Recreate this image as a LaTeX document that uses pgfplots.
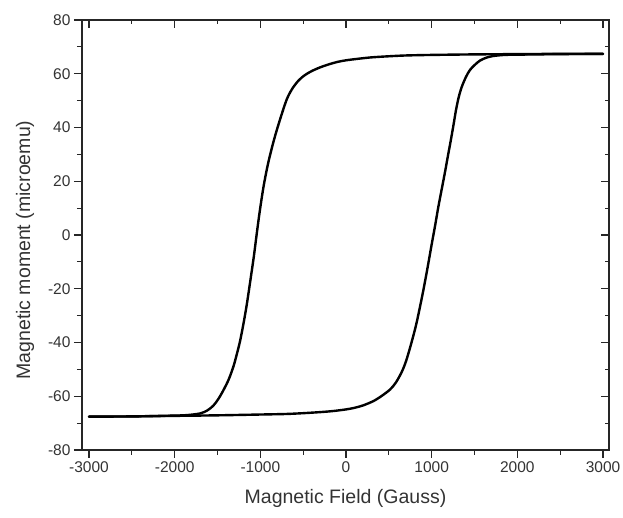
\documentclass[border=0pt]{standalone}
\usepackage{fontspec}
\setmainfont{Liberation Sans}
\usepackage{pgfplots}
\pgfplotsset{compat=1.18}
\begin{document}
\begin{tikzpicture}[x=1pt,y=1pt]
\useasboundingbox (-82,-68) rectangle (541,450);
\begin{axis}[
  at={(0,0)}, anchor=south west,
  scale only axis, width=527pt, height=430pt,
  xmin=-3082, xmax=3070, ymin=-80, ymax=80,
  xtick={-3000,-2000,...,3000}, ytick={-80,-60,...,80},
  minor x tick num=1, minor y tick num=1,
  tick align=outside, xtick pos=left, ytick pos=left,
  major tick length=8pt, minor tick length=5pt,
  axis line style={line width=1.6pt, black!85},
  every tick/.append style={line width=1.1pt, black!85},
  tick label style={font=\fontsize{15.5}{18}\selectfont, text=black!80},
  /pgf/number format/assume math mode=true,
  /pgf/number format/1000 sep={},
  xlabel={Magnetic Field (Gauss)},
  ylabel={Magnetic moment (microemu)},
  label style={font=\fontsize{19.5}{23}\selectfont, text=black!80},
  ylabel style={at={(ticklabel cs:0.465)}},
  xlabel shift=10pt, ylabel shift=7pt,
]
\addplot[black, line width=2.4pt, line join=round, line cap=round, smooth, tension=0.5] coordinates {
(3000,67.4) (2500,67.4) (2000,67.3) (1500,67.2) (1000,67.0) (700,66.8)
(500,66.5) (300,66.1) (150,65.6) (0,65.0) (-100,64.4) (-200,63.5)
(-300,62.4) (-400,61.0) (-480,59.5) (-550,57.6) (-620,54.8) (-690,50.6)
(-770,43.0) (-840,35.5) (-907,27.0) (-960,18.5) (-1004,9.5) (-1040,1.0)
(-1074,-7.5) (-1110,-15.5) (-1159,-26.0) (-1200,-33.5) (-1237,-39.5)
(-1280,-45.0) (-1315,-49.0) (-1370,-53.8) (-1432,-57.8) (-1490,-61.0)
(-1549,-63.5) (-1620,-65.3) (-1704,-66.4) (-1850,-67.0) (-2000,-67.2)
(-2500,-67.5) (-3000,-67.6)
};
\addplot[black, line width=2.4pt, line join=round, line cap=round, smooth, tension=0.5] coordinates {
(-3000,-67.6) (-2500,-67.5) (-2000,-67.3) (-1500,-67.1) (-1000,-66.8)
(-700,-66.6) (-500,-66.3) (-300,-65.9) (-150,-65.5) (0,-64.9) (100,-64.3)
(200,-63.4) (320,-61.8) (420,-59.8) (514,-57.5) (580,-55.0) (650,-51.0)
(700,-47.0) (747,-42.0) (790,-37.0) (825,-32.5) (865,-26.5) (903,-20.5)
(950,-12.5) (1000,-3.5) (1040,3.5) (1078,10.5) (1120,17.5) (1156,23.5)
(1190,29.5) (1222,35.0) (1255,41.0) (1284,46.5) (1315,51.2) (1350,55.0)
(1400,58.8) (1447,61.4) (1500,63.2) (1564,64.9) (1640,66.0) (1720,66.6)
(1850,67.0) (2000,67.1) (2500,67.3) (3000,67.4)
};
\end{axis}
\begin{axis}[
  at={(0,0)}, anchor=south west,
  scale only axis, width=527pt, height=430pt,
  xmin=-3082, xmax=3070, ymin=-80, ymax=80,
  xtick={-3000,-2000,...,3000}, ytick={-80,-60,...,80},
  minor x tick num=1, minor y tick num=1,
  tick align=inside, xtick pos=right, ytick pos=right,
  xticklabels={}, yticklabels={},
  major tick length=8pt, minor tick length=4pt,
  axis line style={line width=1.6pt, black!85},
  every tick/.append style={line width=1.1pt, black!85},
]
\end{axis}
\end{tikzpicture}
\end{document}
